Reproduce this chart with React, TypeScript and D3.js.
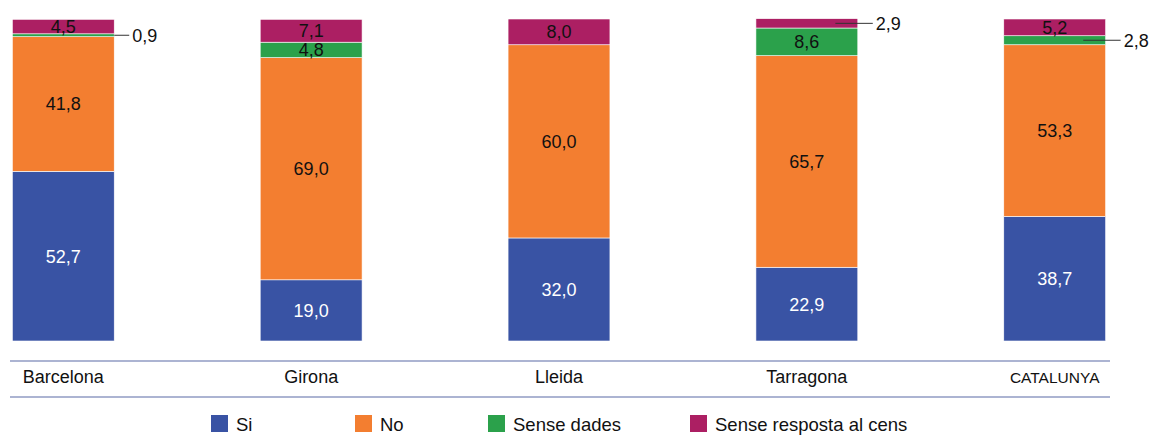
import React from "react";
import * as d3 from "d3";

const categories = ["Barcelona", "Girona", "Lleida", "Tarragona", "CATALUNYA"];
const seriesNames = ["Si", "No", "Sense dades", "Sense resposta al cens"];
const si = [52.7, 19.0, 32.0, 22.9, 38.7];
const no = [41.8, 69.0, 60.0, 65.7, 53.3];
const senseDades = [0.9, 4.8, 0, 8.6, 2.8];
const senseResposta = [4.5, 7.1, 8.0, 2.9, 5.2];
const colors = ["#3953a4", "#f37e30", "#2ba14b", "#ac1f63"];
const labelColors = ["#ffffff", "#111111", "#111111", "#111111"];

const W = 1157;
const H = 439;
const fmt = (v: number) => v.toFixed(1).replace(".", ",");

export default function App() {
  const x = d3.scaleBand<string>().domain(categories).range([-62, 1180]).paddingInner(0.589).paddingOuter(0.3);
  const y = d3.scaleLinear().domain([0, 100]).range([341, 19]);
  const rows = categories.map((c, i) => ({
    cat: c,
    s0: si[i],
    s1: no[i],
    s2: senseDades[i],
    s3: senseResposta[i],
  }));
  const stack = d3.stack<any>().keys(["s0", "s1", "s2", "s3"])(rows);
  const bw = x.bandwidth();
  const font = "'Liberation Sans', Arial, Helvetica, sans-serif";
  const legendX = [211, 355, 488, 690];

  return (
    <svg width={W} height={H} style={{ position: "absolute", left: 0, top: 0 }} fontFamily={font}>
      <rect width={W} height={H} fill="#fff" />
      {stack.map((layer, li) =>
        layer.map((d, ci) => {
          const v = d[1] - d[0];
          if (v <= 0) return null;
          const x0 = x(categories[ci])!;
          const yTop = y(d[1]);
          const yBot = y(d[0]);
          const cy = (yTop + yBot) / 2;
          const small = v < 3;
          return (
            <g key={`${li}-${ci}`}>
              <rect x={x0} y={yTop} width={bw} height={yBot - yTop} fill={colors[li]} stroke="#fff" strokeWidth={0.6} />
              {small ? (
                <g>
                  <line x1={ci === 0 ? x0 + bw : x0 + bw * 0.78} x2={x0 + bw + 15} y1={cy} y2={cy} stroke="#333" strokeWidth={1} />
                  <text x={x0 + bw + 18} y={cy} dy="0.36em" fontSize={18} fill="#111">{fmt(v)}</text>
                </g>
              ) : (
                <text x={x0 + bw / 2} y={cy} dy="0.36em" textAnchor="middle" fontSize={18} fill={labelColors[li]}>{fmt(v)}</text>
              )}
            </g>
          );
        })
      )}
      <line x1={10} x2={1110} y1={361} y2={361} stroke="#5b6aa6" strokeWidth={1.2} />
      <line x1={10} x2={1110} y1={397} y2={397} stroke="#5b6aa6" strokeWidth={1.2} />
      {categories.map((c) => (
        <text key={c} x={x(c)! + bw / 2} y={383} textAnchor="middle" fontSize={c === "CATALUNYA" ? 15.5 : 18} fill="#111">{c}</text>
      ))}
      {seriesNames.map((s, i) => (
        <g key={s}>
          <rect x={legendX[i]} y={415} width={17} height={17} fill={colors[i]} />
          <text x={legendX[i] + 25} y={424} dy="0.36em" fontSize={18.5} fill="#111">{s}</text>
        </g>
      ))}
    </svg>
  );
}
